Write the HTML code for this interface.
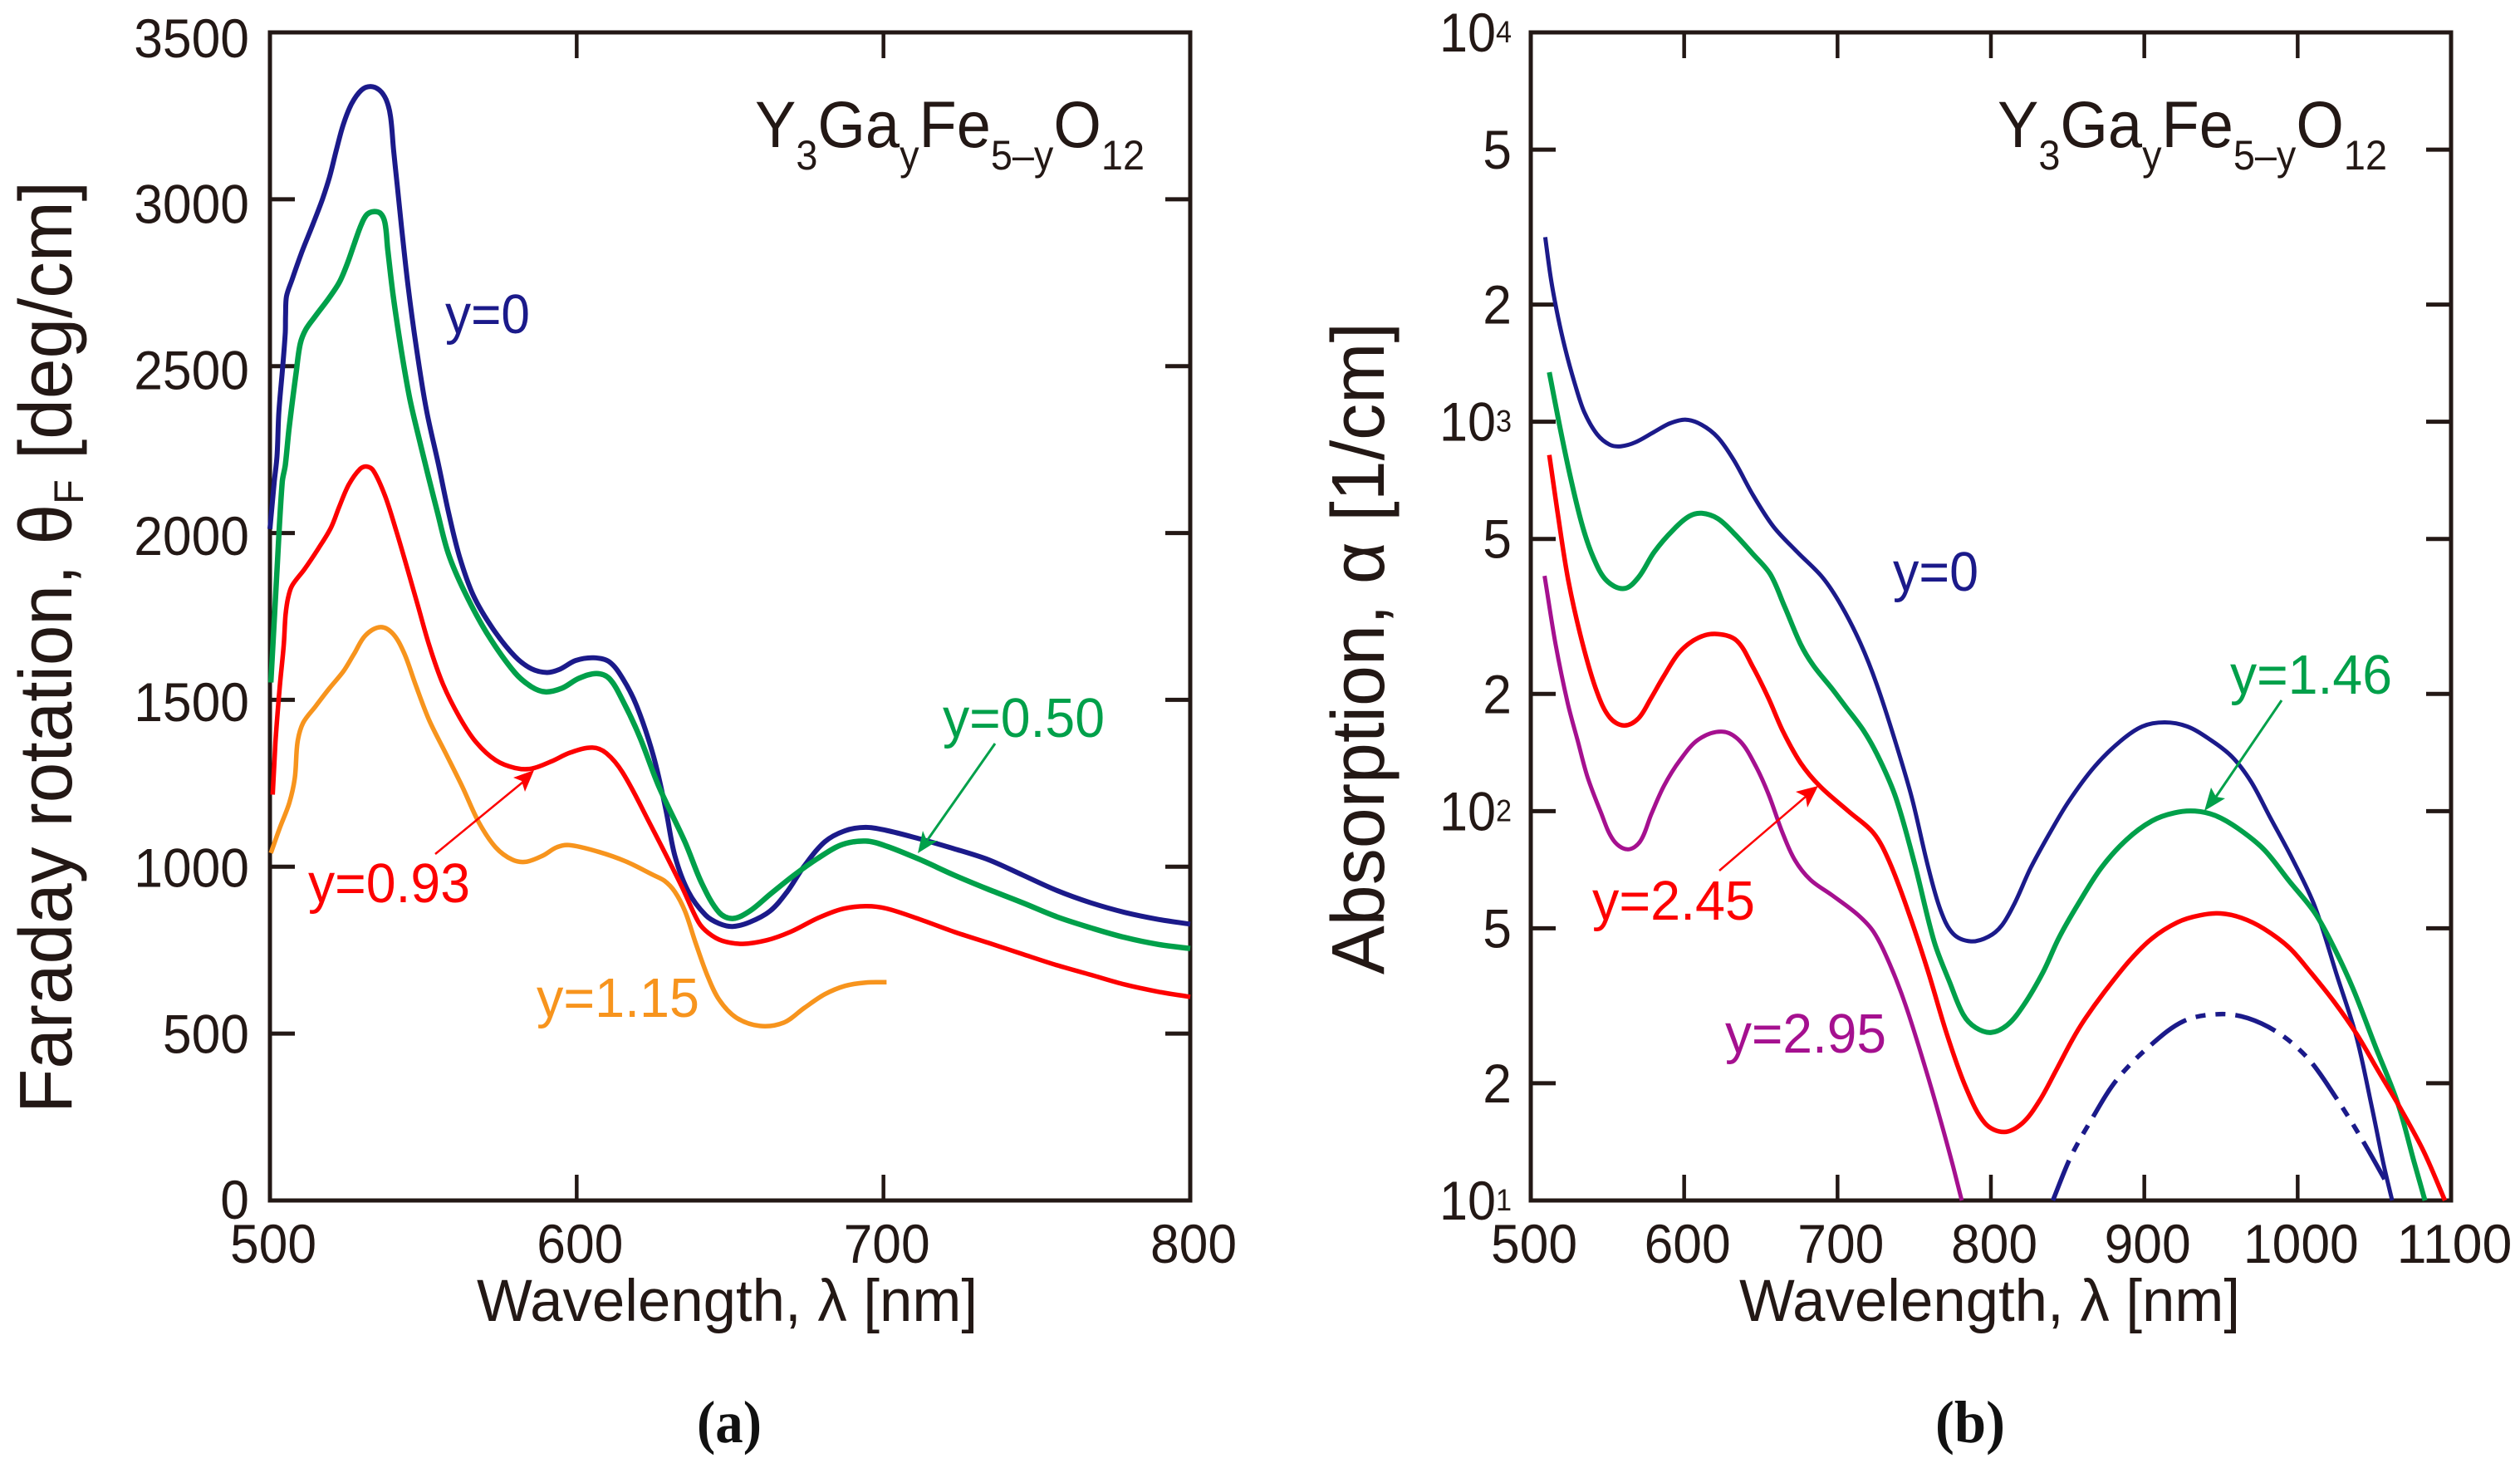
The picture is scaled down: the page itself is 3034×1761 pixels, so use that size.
<!DOCTYPE html>
<html lang="en">
<head>
<meta charset="utf-8">
<title>Faraday rotation and absorption of Y3GayFe5-yO12</title>
<style>
html,body{margin:0;padding:0;background:#fff;}
svg{display:block;}
text{font-family:"Liberation Sans","DejaVu Sans",sans-serif;fill:#231815;}
.tick{font-size:66px;}
.note{font-size:67px;}
</style>
</head>
<body>
<svg id="figure" xmlns="http://www.w3.org/2000/svg" width="3034" height="1761" viewBox="0 0 3034 1761">
  <rect width="3034" height="1761" fill="#fff"/>
  <g id="panelA"></g>
  <g id="panelB"></g>

  <text x="909" y="177" font-size="79" textLength="469" lengthAdjust="spacingAndGlyphs">Y<tspan font-size="50" dy="27">3</tspan><tspan dy="-27">Ga</tspan><tspan font-size="50" dy="27">y</tspan><tspan dy="-27">Fe</tspan><tspan font-size="50" dy="27">5–y</tspan><tspan dy="-27">O</tspan><tspan font-size="50" dy="27">12</tspan></text>
  <text x="2405" y="177" font-size="79" textLength="469" lengthAdjust="spacingAndGlyphs">Y<tspan font-size="50" dy="27">3</tspan><tspan dy="-27">Ga</tspan><tspan font-size="50" dy="27">y</tspan><tspan dy="-27">Fe</tspan><tspan font-size="50" dy="27">5–y</tspan><tspan dy="-27">O</tspan><tspan font-size="50" dy="27">12</tspan></text>

  <text x="574" y="1590" font-size="71" textLength="603" lengthAdjust="spacingAndGlyphs">Wavelength, λ [nm]</text>
  <text x="2094" y="1590" font-size="71" textLength="603" lengthAdjust="spacingAndGlyphs">Wavelength, λ [nm]</text>

  <text transform="translate(86,1340) rotate(-90)" font-size="90" textLength="1122" lengthAdjust="spacingAndGlyphs">Faraday rotation, θ<tspan font-size="50" dy="14">F</tspan><tspan dy="-14"> [deg/cm]</tspan></text>
  <text transform="translate(1666,1173) rotate(-90)" font-size="90" textLength="785" lengthAdjust="spacingAndGlyphs">Absorption, α [1/cm]</text>

  <text class="note" x="536" y="401" textLength="102" lengthAdjust="spacingAndGlyphs" style="fill:#1b1a8a">y=0</text>
  <text class="note" x="1135" y="887" textLength="195" lengthAdjust="spacingAndGlyphs" style="fill:#00a04a">y=0.50</text>
  <text class="note" x="371" y="1086" textLength="195" lengthAdjust="spacingAndGlyphs" style="fill:#fd0000">y=0.93</text>
  <text class="note" x="646" y="1224" textLength="196" lengthAdjust="spacingAndGlyphs" style="fill:#f7941d">y=1.15</text>
  <text class="note" x="2279" y="711" textLength="103" lengthAdjust="spacingAndGlyphs" style="fill:#1b1a8a">y=0</text>
  <text class="note" x="2685" y="835" textLength="195" lengthAdjust="spacingAndGlyphs" style="fill:#00a04a">y=1.46</text>
  <text class="note" x="1917" y="1107" textLength="196" lengthAdjust="spacingAndGlyphs" style="fill:#fd0000">y=2.45</text>
  <text class="note" x="2077" y="1267" textLength="194" lengthAdjust="spacingAndGlyphs" style="fill:#a5108f">y=2.95</text>

  <g>
    <line x1="524" y1="1028" x2="630" y2="941" stroke="#fd0000" stroke-width="2.5"/>
    <polygon points="643,927 618,936 628,940 632,953" fill="#fd0000"/>
  </g>
  <g>
    <line x1="1198" y1="895" x2="1116" y2="1012" stroke="#00a04a" stroke-width="3"/>
    <polygon points="1105,1027 1111,1000 1116,1012 1129,1012" fill="#00a04a"/>
  </g>
  <g>
    <line x1="2070" y1="1048" x2="2175" y2="958" stroke="#fd0000" stroke-width="2.5"/>
    <polygon points="2189,946 2162,953 2174,959 2176,972" fill="#fd0000"/>
  </g>
  <g>
    <line x1="2747" y1="843" x2="2668" y2="959" stroke="#00a04a" stroke-width="3"/>
    <polygon points="2654,976 2662,948 2668,959 2679,961" fill="#00a04a"/>
  </g>

  <text x="839" y="1736" font-size="72" textLength="78" lengthAdjust="spacingAndGlyphs" font-weight="bold" style="font-family:'Liberation Serif',serif;fill:#111">(a)</text>
  <text x="2330" y="1736" font-size="72" textLength="84" lengthAdjust="spacingAndGlyphs" font-weight="bold" style="font-family:'Liberation Serif',serif;fill:#111">(b)</text>
</svg>

<script>
// ---- Panel (a) Faraday rotation data ----
const aXTicks = [500, 600, 700, 800];
const aYTicks = [0, 500, 1000, 1500, 2000, 2500, 3000, 3500];

const aWl_y000 = [500,501.4,502.3,502.9,504.2,505,505.1,505.4,507.2,510.4,514,517.1,519.4,521.7,523.9,526.6,529.8,532.8,535.7,537.9,539.3,540.3,541.5,542.9,545.1,547.8,551,555,558.2,561.8,566.3,572.7,579.9,585.3,590.3,594.3,599.7,605.6,610.6,615,619.6,625,629,632,636.4,642,646.4,650.8,656.4,663,668.6,674,680.9,687.5,694.2,700.9,712,723,734.2,745.4,756.5,767.6,778.7,789.8,800];
const aTheta_y000 = [2012,2153,2230,2361,2502,2601,2651,2709,2759,2842,2925,3000,3066,3149,3224,3286,3327,3338,3327,3298,3249,3149,3041,2917,2734,2552,2369,2203,2062,1929,1813,1713,1630,1593,1582,1591,1618,1626,1614,1564,1481,1332,1174,1033,925,855,830,821,834,867,925,1000,1075,1108,1118,1109,1083,1054,1021,975,929,892,863,842,828];

const aWl_y050 = [500.3,502.2,504,505,506.3,508.6,509.9,511.7,514.9,519,522.6,525.3,527.5,529.8,531.6,533.8,536.1,537.5,538.4,540.2,542.9,545.6,549.2,551.9,554.6,558.2,563.6,570.9,579.9,585.3,589.8,595.2,600.6,606.5,610.6,615,620.5,626.8,635.3,640.8,646.4,650.8,656.4,663,670.9,678.6,686.4,694.2,700.9,712,723,734,745.4,756.5,767.6,778.7,789.8,800];
const aTheta_y050 = [1552,1871,2153,2203,2319,2485,2568,2610,2651,2701,2751,2809,2867,2925,2954,2963,2957,2929,2850,2709,2543,2402,2261,2160,2062,1937,1821,1697,1581,1539,1524,1535,1564,1579,1564,1498,1390,1240,1074,950,863,845,867,917,975,1025,1066,1077,1062,1021,975,933,892,850,817,788,767,755];

const aWl_y093 = [500.9,501.8,503.2,504.5,505.1,505.9,507.2,511.3,515.8,519.9,522.6,525.7,529.3,531.6,533.8,537.5,541,544.7,548.3,551.9,556.4,561.8,567.2,573.6,579.9,585.3,591.6,597.9,605.1,609.7,615,623.2,634.2,639.7,643,647.5,654.2,662,669.7,678.6,686.4,694.2,700.9,712,723,734.2,745.4,756.5,767.6,778.7,789.8,800];
const aTheta_y093 = [1216,1373,1539,1664,1755,1805,1842,1892,1954,2016,2079,2145,2191,2199,2186,2112,2012,1896,1780,1664,1547,1448,1373,1319,1296,1294,1315,1342,1357,1340,1282,1141,942,834,801,778,769,780,805,846,873,882,875,842,805,772,738,705,676,647,625,610];

const aWl_y115 = [500.3,503.2,506.3,508.1,509,510.8,514.9,519.4,523.9,527.5,531.1,536.1,540.2,543.8,547.4,551.9,557.3,562.7,568.1,573.6,579,583.5,588.9,593.4,597.5,607,616,625,628.6,632,635.3,638.6,642.5,646.4,652,659.7,667.5,674.2,680.9,687.5,694.2,701];
const aTheta_y115 = [1041,1116,1191,1265,1373,1431,1481,1535,1585,1639,1693,1718,1697,1639,1547,1439,1340,1240,1133,1058,1021,1015,1033,1058,1065,1045,1016,975,958,925,867,776,676,602,548,523,533,577,618,643,653,654];

// ---- Panel (b) absorption data ----
const bXTicks = [500, 600, 700, 800, 900, 1000, 1100];
const bYMajor = [10, 100, 1000, 10000];
const bYMajorExp = ["1", "2", "3", "4"];
const bYMinor = [20, 50, 200, 500, 2000, 5000];
const bYMinorLabels = ["2", "5", "2", "5", "2", "5"];

const bWl_y000 = [509.4,513.1,517.3,522.4,528.7,534.9,543.2,551.5,558.7,568,580.5,590.8,601.2,611.5,621.9,632.3,644.7,658.2,673.7,690.3,702.7,715.1,725.5,738.1,748.5,758.8,767.1,775.4,787,798.5,807,815.4,825.8,838.3,850.8,867.5,884.2,898.7,913.3,927.9,942.5,957.1,969.6,982,996.6,1011.2,1025.8,1038.3,1048.7,1056,1061.6];
const bAlpha_y000 = [2980,2333,1897,1542,1253,1059,929,873,865,885,942,991,1012,982,912,798,650,538,463,398,336,269,212,149,108,72.6,55.8,48.4,46.3,47.6,50.8,57.9,71.3,87.7,106,130,151,165,169,165,153,138,119,96.4,75.3,56.9,37.6,26.3,17.1,12.4,10];

const bWl_y146 = [512.1,518.3,525.6,533.8,541,549.4,560.8,570.1,580.5,592.9,603.3,611.5,621.9,632.3,644.7,656.1,665.4,675.8,684.1,696.5,705,717.4,727.7,738.1,750.5,763,773.3,782,790,800.2,811,821.5,834,844.6,857.1,871.7,888.3,905,919.6,933.1,946.6,961.2,977.9,994.5,1011.2,1023.7,1036.2,1050.8,1065.4,1075.8,1083];
const bAlpha_y146 = [1340,1000,728,538,446,391,373,398,463,528,572,582,564,518,458,406,336,269,237,206,186,160,135,108,72.6,46.2,36.2,30,27.8,27,28.3,31.8,38.6,47.5,57.9,71.3,84.4,94.4,99,100,97.3,90.2,79.8,66.1,54.8,44.6,34.9,24.8,17.7,12.6,10];

const bWl_y245 = [512.1,517.3,524.5,533.8,543.2,551.5,560.8,570.1,578.4,586.7,597,609.5,621.9,634.3,644.7,655,664.5,675.9,688.4,707,723.6,733.9,746.4,758.8,771.2,783.7,796.1,808.5,820.5,831.5,842.5,852.9,861.2,873.7,890.4,905,921.6,936.2,949.8,963.3,977.9,994.5,1009,1023.7,1038.3,1052.9,1067.5,1082,1096];
const bAlpha_y245 = [822,592,391,269,202,174,166,173,195,222,256,279,285,274,235,195,160,133,116,100,87.7,74,54.8,39,26.8,19.5,15.8,15,15.8,18,21.6,25.8,29.2,34.2,41.3,47.1,51.8,54,54.6,53.2,49.9,44.6,38.3,32.4,26.8,21.4,17.1,13.4,10];

const bWl_y295 = [509,516.2,524,530.9,537.1,545.4,553.7,563,571.3,578.6,586.8,597.2,609.6,625.2,636.6,646.9,655.2,663.5,671.8,682.2,696.7,713.2,723.6,733.9,744.3,756.8,767.1,775.4,781];
const bAlpha_y295 = [402,268,190,150,122,100,84.4,79.8,83.6,98.2,116,135,153,160,151,130,110,89.3,75.3,66.7,60.7,54.2,48.9,40.6,31.8,22.2,16.1,12.2,10];

const bWl_extrap = [840.4,851.9,865.4,882,902.9,925.8,948.7,967.5,988.3,1007,1023.7,1040.4,1059.1];
const bAlpha_extrap = [10,12.9,16.1,20.4,24.8,28.9,30.1,29.4,26.8,23.1,18.7,14.7,10.9];

// ---- Axis functions ----
const aLeft = 325, aRight = 1433, bLeft = 1843, bRight = 2951, top_ = 39, bottom = 1445;
function ax(v){ return aLeft + (v - 500) / 300 * (aRight - aLeft); }
function ay(v){ return bottom - v / 3500 * (bottom - top_); }
function bx(v){ return bLeft + (v - 500) / 600 * (bRight - bLeft); }
function by(v){ return bottom - (Math.log10(v) - 1) / 3 * (bottom - top_); }

const NS = 'http://www.w3.org/2000/svg';
const INK = '#231815';
const panelA = document.getElementById('panelA');
const panelB = document.getElementById('panelB');

function makeSmooth(xs, ys, fx, fy){
  const p = xs.map((x, i) => [fx(x), fy(ys[i])]);
  function tangent(i){
    const a = p[Math.max(i - 1, 0)], b = p[Math.min(i + 1, p.length - 1)];
    const dx = b[0] - a[0], dy = b[1] - a[1], n = Math.hypot(dx, dy) || 1;
    return [dx / n, dy / n];
  }
  let d = 'M' + p[0][0].toFixed(1) + ' ' + p[0][1].toFixed(1);
  for (let i = 0; i < p.length - 1; i++){
    const p1 = p[i], p2 = p[i + 1], t1 = tangent(i), t2 = tangent(i + 1);
    const s = Math.hypot(p2[0] - p1[0], p2[1] - p1[1]) / 3;
    d += 'C' + (p1[0] + t1[0] * s).toFixed(1) + ' ' + (p1[1] + t1[1] * s).toFixed(1) + ' ' + (p2[0] - t2[0] * s).toFixed(1) + ' ' + (p2[1] - t2[1] * s).toFixed(1) + ' ' + p2[0].toFixed(1) + ' ' + p2[1].toFixed(1);
  }
  return d;
}

function styledLine(parent, x1, y1, x2, y2, w){
  const l = document.createElementNS(NS, 'line');
  l.setAttribute('x1', x1);
  l.setAttribute('y1', y1);
  l.setAttribute('x2', x2);
  l.setAttribute('y2', y2);
  l.setAttribute('stroke', INK);
  l.setAttribute('stroke-width', w);
  parent.appendChild(l);
  return l;
}

function tickText(parent, x, y, anchor, str, exp){
  const t = document.createElementNS(NS, 'text');
  t.setAttribute('class', 'tick');
  t.setAttribute('x', x);
  t.setAttribute('y', y);
  t.setAttribute('text-anchor', anchor);
  t.setAttribute('lengthAdjust', 'spacingAndGlyphs');
  t.setAttribute('textLength', exp ? 87 : str.length * 34.7);
  t.textContent = str;
  if (exp){
    const s = document.createElementNS(NS, 'tspan');
    s.setAttribute('font-size', '37');
    s.setAttribute('dy', '-11');
    s.textContent = exp;
    t.appendChild(s);
  }
  parent.appendChild(t);
  return t;
}

function frame(parent, l, r, name){
  const f = document.createElementNS(NS, 'rect');
  
  
  f.setAttribute('x', l);
  f.setAttribute('y', top_);
  f.setAttribute('width', r - l);
  f.setAttribute('height', bottom - top_);
  f.setAttribute('fill', 'none');
  f.setAttribute('stroke', INK);
  f.setAttribute('stroke-width', '5');
  parent.appendChild(f);
}

function curve(parent, d, color, w, name, dash){
  const c = document.createElementNS(NS, 'path');
  
  
  c.setAttribute('d', d);
  c.setAttribute('fill', 'none');
  c.setAttribute('stroke', color);
  c.setAttribute('stroke-width', w);
  c.setAttribute('stroke-linejoin', 'round');
  if (dash) c.setAttribute('stroke-dasharray', dash);
  parent.appendChild(c);
}

// ---- Panel (a) axes ----
frame(panelA, aLeft, aRight, 'panel-a-frame');
aXTicks.forEach(v => {
  const g = document.createElementNS(NS, 'g');
  
  
  styledLine(g, ax(v), bottom, ax(v), bottom - 31, 4.5);
  styledLine(g, ax(v), top_, ax(v), top_ + 31, 4.5);
  tickText(g, ax(v) + 4, 1520, 'middle', String(v));
  panelA.appendChild(g);
});
aYTicks.forEach(v => {
  const g = document.createElementNS(NS, 'g');
  
  
  styledLine(g, aLeft, ay(v), aLeft + 30, ay(v), 5);
  styledLine(g, aRight, ay(v), aRight - 30, ay(v), 5);
  tickText(g, 300, ay(v) + 22 + v / 3500 * 8, 'end', String(v));
  panelA.appendChild(g);
});

curve(panelA, makeSmooth(aWl_y000, aTheta_y000, ax, ay), '#1b1a8a', 6, 'curve-a-y-0');
curve(panelA, makeSmooth(aWl_y050, aTheta_y050, ax, ay), '#00a04a', 6.5, 'curve-a-y-0-50');
curve(panelA, makeSmooth(aWl_y093, aTheta_y093, ax, ay), '#fd0000', 5.5, 'curve-a-y-0-93');
curve(panelA, makeSmooth(aWl_y115, aTheta_y115, ax, ay), '#f7941d', 5.5, 'curve-a-y-1-15');

// ---- Panel (b) axes ----
frame(panelB, bLeft, bRight, 'panel-b-frame');
bXTicks.forEach(v => {
  const g = document.createElementNS(NS, 'g');
  
  
  styledLine(g, bx(v), bottom, bx(v), bottom - 31, 4.5);
  styledLine(g, bx(v), top_, bx(v), top_ + 31, 4.5);
  tickText(g, bx(v) + 4, 1520, 'middle', String(v));
  panelB.appendChild(g);
});
bYMajor.forEach((v, i) => {
  const g = document.createElementNS(NS, 'g');
  
  
  styledLine(g, bLeft, by(v), bLeft + 30, by(v), 5);
  styledLine(g, bRight, by(v), bRight - 30, by(v), 5);
  tickText(g, 1820, by(v) + 23, 'end', '10', bYMajorExp[i]);
  panelB.appendChild(g);
});
bYMinor.forEach((v, i) => {
  const g = document.createElementNS(NS, 'g');
  
  
  styledLine(g, bLeft, by(v), bLeft + 30, by(v), 5);
  styledLine(g, bRight, by(v), bRight - 30, by(v), 5);
  tickText(g, 1820, by(v) + 23, 'end', bYMinorLabels[i]);
  panelB.appendChild(g);
});

curve(panelB, makeSmooth(bWl_y000, bAlpha_y000, bx, by), '#1b1a8a', 5, 'curve-b-y-0');
curve(panelB, makeSmooth(bWl_y146, bAlpha_y146, bx, by), '#00a04a', 6, 'curve-b-y-1-46');
curve(panelB, makeSmooth(bWl_y245, bAlpha_y245, bx, by), '#fd0000', 5.5, 'curve-b-y-2-45');
curve(panelB, makeSmooth(bWl_y295, bAlpha_y295, bx, by), '#a5108f', 5, 'curve-b-y-2-95');
curve(panelB, makeSmooth(bWl_extrap, bAlpha_extrap, bx, by), '#1b1a8a', 5.5, 'curve-b-extrapolated', '52 12 12 12 12 12');
</script>
</body>
</html>
